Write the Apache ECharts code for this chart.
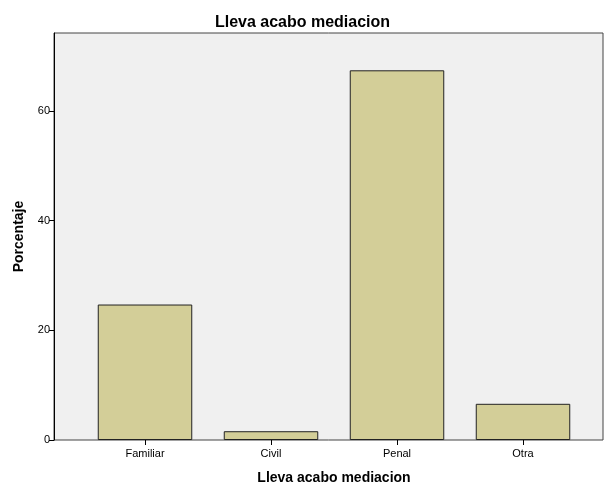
<!DOCTYPE html>
<html><head><meta charset="utf-8">
<script src="https://cdn.jsdelivr.net/npm/echarts@6/dist/echarts.min.js"></script>
<style>html,body{margin:0;padding:0;background:#fff}#c{width:605px;height:483px}</style>
</head><body><div id="c"></div>
<script>
const categories = ['Familiar', 'Civil', 'Penal', 'Otra'];
const porcentaje = [24.7, 1.6, 67.4, 6.6];
const yTicks = [0, 20, 40, 60];

const chart = echarts.init(document.getElementById('c'), null, {renderer: 'canvas'});
const font = 'Liberation Sans, Arial, sans-serif';
chart.setOption({
  animation: false,
  title: {text: 'Lleva acabo mediacion', left: 'center', top: 10,
    textStyle: {fontFamily: font, fontSize: 16, fontWeight: 'bold', color: '#000'}},
  grid: [
    {left: 54, right: 2, top: 33, bottom: 43, show: true, backgroundColor: '#f0f0f0', borderColor: '#444', borderWidth: 1,
      containLabel: false, outerBoundsMode: 'none'},
    {left: 82, right: 19, top: 33, bottom: 43, containLabel: false, outerBoundsMode: 'none'}
  ],
  xAxis: [
    {gridIndex: 0, type: 'value', min: 0, max: 1, show: false},
    {gridIndex: 1, type: 'category', data: categories,
      name: 'Lleva acabo mediacion', nameLocation: 'middle', nameGap: 31,
      nameTextStyle: {fontFamily: font, fontSize: 14, fontWeight: 'bold', color: '#000'},
      axisLine: {show: false},
      axisTick: {show: true, alignWithLabel: true, length: 5, lineStyle: {color: '#000'}},
      axisLabel: {fontFamily: font, fontSize: 11, color: '#000', margin: 8}}
  ],
  yAxis: [
    {gridIndex: 0, type: 'value', min: 0, max: 74.2, interval: 20,
      name: 'Porcentaje', nameLocation: 'middle', nameGap: 28,
      nameTextStyle: {fontFamily: font, fontSize: 14, fontWeight: 'bold', color: '#000'},
      axisLine: {show: true, lineStyle: {color: '#000'}},
      axisTick: {show: true, length: 5, lineStyle: {color: '#000'}, customValues: yTicks},
      axisLabel: {fontFamily: font, fontSize: 11, color: '#000', margin: 4, customValues: yTicks},
      splitLine: {show: false}},
    {gridIndex: 1, type: 'value', min: 0, max: 74.2, show: false, splitLine: {show: false}}
  ],
  series: [{
    type: 'bar', xAxisIndex: 1, yAxisIndex: 1, data: porcentaje, barWidth: '75%',
    itemStyle: {color: '#d3ce98', borderColor: '#222', borderWidth: 1}
  }]
});
</script></body></html>
